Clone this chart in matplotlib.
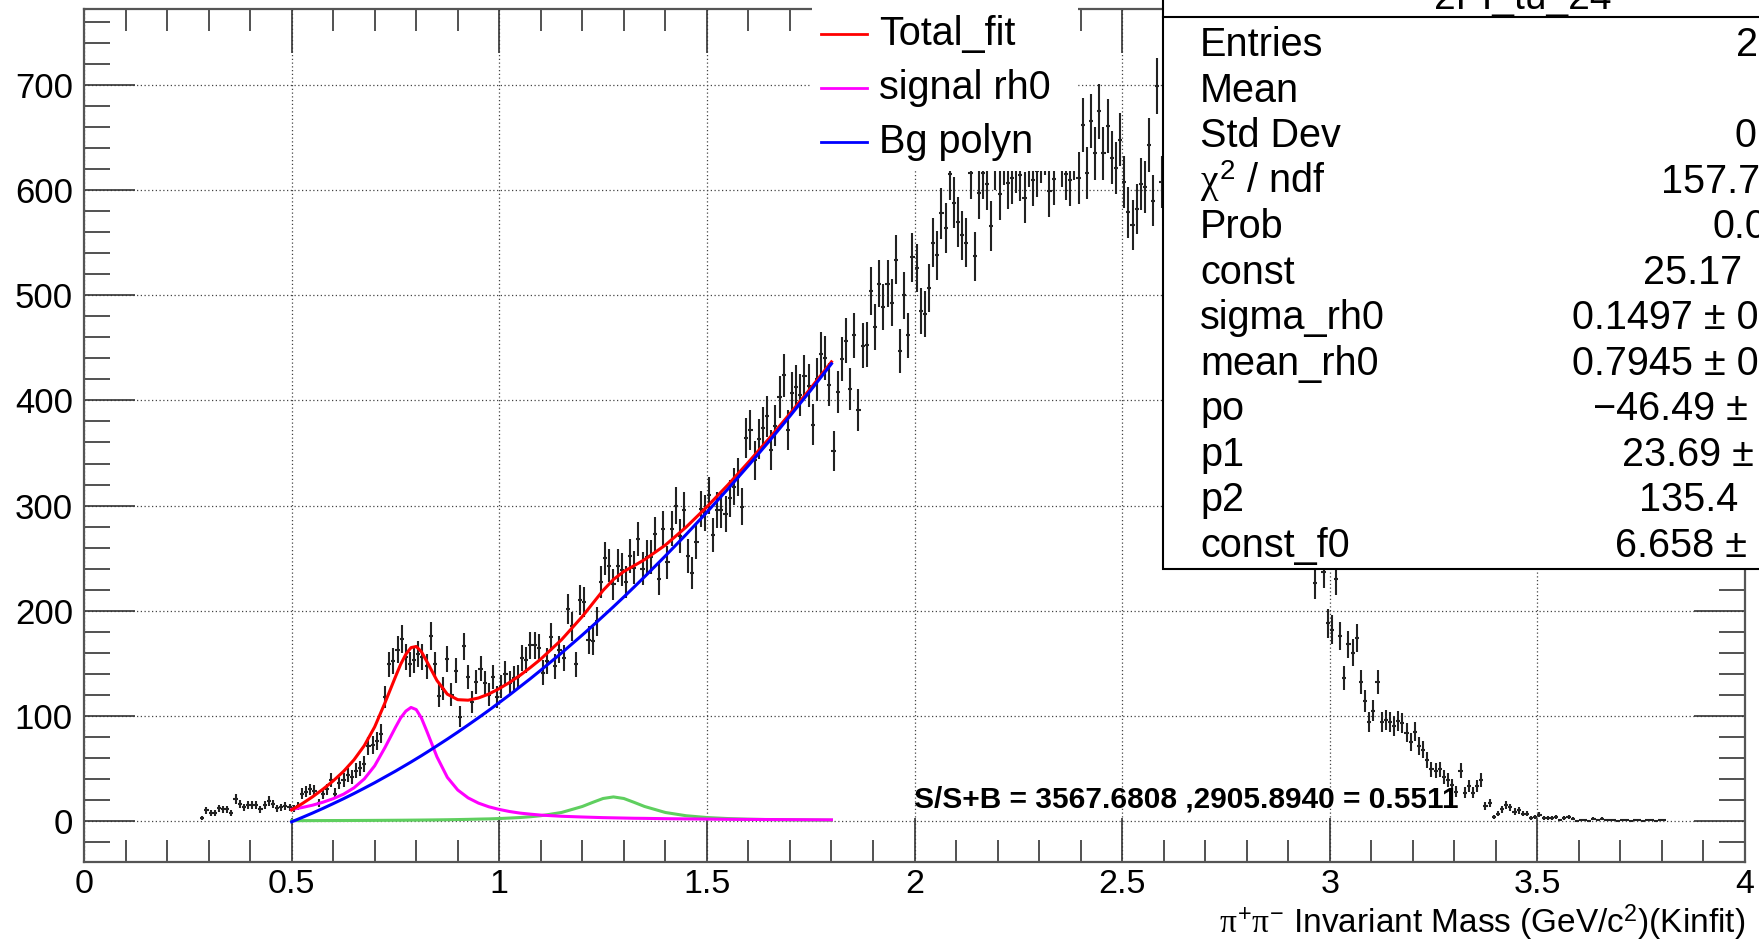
import numpy as np
import matplotlib
matplotlib.use("Agg")
import matplotlib.pyplot as plt
from matplotlib.patches import Rectangle
from matplotlib.lines import Line2D
from matplotlib.ticker import MultipleLocator

plt.rcParams['font.family'] = ['Liberation Sans', 'DejaVu Sans']
plt.rcParams['mathtext.fontset'] = 'custom'
plt.rcParams['mathtext.rm'] = 'Liberation Sans'
plt.rcParams['mathtext.it'] = 'Liberation Serif'

W, H = 1759, 941

# histogram, 0.01 GeV bins starting at 0.28
bin_lo = 0.28
bin_w = 0.01
counts = [
    3, 10, 8, 8, 12, 11, 11, 8, 21, 16,
    13, 15, 15, 15, 11, 15, 19, 16, 12, 13,
    14, 13, 12, 14, 26, 28, 30, 29, 17, 26,
    30, 39, 26, 36, 39, 44, 42, 48, 50, 54,
    71, 72, 76, 83, 118, 149, 152, 163, 173, 156,
    149, 153, 159, 156, 147, 176, 149, 119, 126, 154,
    120, 143, 99, 166, 137, 113, 132, 145, 131, 120,
    137, 118, 128, 140, 131, 136, 137, 155, 153, 167,
    167, 165, 141, 152, 175, 147, 163, 155, 202, 185,
    149, 210, 208, 172, 171, 190, 227, 250, 243, 225,
    243, 239, 227, 252, 241, 268, 240, 251, 251, 273,
    230, 278, 246, 278, 300, 271, 296, 252, 236, 265,
    297, 293, 310, 272, 296, 296, 292, 307, 318, 327,
    299, 364, 372, 343, 363, 374, 385, 353, 376, 403,
    424, 372, 407, 413, 405, 423, 414, 377, 420, 444,
    440, 415, 352, 408, 439, 457, 411, 462, 391, 452,
    453, 504, 470, 511, 489, 511, 493, 534, 447, 500,
    462, 536, 526, 485, 482, 507, 550, 538, 578, 564,
    615, 588, 570, 557, 550, 616, 537, 597, 616, 606,
    566, 625, 596, 630, 607, 612, 622, 614, 593, 628,
    610, 618, 632, 640, 599, 611, 645, 628, 615, 610,
    635, 612, 662, 616, 666, 635, 675, 635, 661, 631,
    621, 648, 608, 579, 567, 582, 606, 603, 643, 590,
    699, 608, 640, 620, 650, 605, 630, 590, 600, 570,
    585, 555, 560, 530, 545, 510, 500, 490, 470, 480,
    450, 440, 420, 425, 400, 390, 370, 360, 345, 330,
    325, 315, 310, 300, 295, 290, 285, 280, 226, 265,
    237, 188, 182, 230, 176, 136, 168, 160, 174, 132,
    114, 94, 105, 132, 94, 96, 94, 90, 95, 93,
    84, 75, 85, 71, 68, 58, 49, 48, 49, 42,
    39, 34, 28, 48, 27, 33, 27, 33, 39, 14,
    17, 4, 7, 11, 15, 13, 9, 10, 7, 7,
    3, 4, 6, 3, 3, 3, 4, 1, 3, 4,
    2, 0, 1, 1, 0, 2, 1, 2, 1, 1,
    1, 0, 1, 1, 0, 1, 1, 0, 1, 1,
    0, 1, 1,
]

# fit curves
fit_x = [0.500, 0.525, 0.550, 0.575, 0.600, 0.625, 0.650, 0.675, 0.700, 0.725,
         0.750, 0.7625, 0.775, 0.7875, 0.800, 0.8125, 0.825, 0.850, 0.875, 0.900,
         0.925, 0.950, 0.975, 1.000, 1.025, 1.050, 1.075, 1.100, 1.150, 1.200,
         1.225, 1.250, 1.275, 1.300, 1.325, 1.350, 1.400, 1.450, 1.500, 1.550,
         1.600, 1.650, 1.700, 1.750, 1.800]
total_fit = [10.5, 16.4, 22.9, 30.1, 38.1, 47.2, 58.1, 71.7, 89.5, 112.6,
             137.1, 149.0, 158.5, 164.9, 166.0, 161.0, 152.2, 133.6, 120.6, 115.4,
             114.9, 117.0, 120.8, 125.9, 131.8, 138.5, 146.0, 154.0, 172.4, 194.5,
             206.9, 219.3, 229.7, 237.3, 242.9, 248.6, 262.4, 279.5, 298.8, 319.4,
             341.2, 363.9, 387.4, 411.6, 436.7]
signal_rho = [11.0, 12.8, 15.0, 17.8, 21.2, 25.5, 31.5, 40.0, 52.5, 70.0,
              89.0, 98.0, 104.5, 108.0, 106.0, 98.0, 86.0, 61.0, 41.5, 29.5,
              22.0, 17.0, 13.5, 11.0, 9.0, 7.5, 6.5, 5.6, 4.5, 3.8,
              3.5, 3.2, 3.0, 2.8, 2.6, 2.5, 2.2, 2.0, 1.8, 1.6,
              1.5, 1.4, 1.3, 1.2, 1.1]
bg_poly = [-0.8, 3.3, 7.5, 11.9, 16.5, 21.2, 26.1, 31.2, 36.4, 41.9,
           47.4, 50.3, 53.2, 56.1, 59.1, 62.1, 65.2, 71.5, 77.9, 84.5,
           91.3, 98.2, 105.3, 112.6, 120.0, 127.7, 135.4, 143.4, 159.8, 176.9,
           185.7, 194.7, 203.8, 213.1, 222.6, 232.3, 252.1, 272.5, 293.7, 315.5,
           338.0, 361.2, 385.1, 409.6, 434.9]
signal_f0 = [0.30, 0.35, 0.37, 0.40, 0.43, 0.46, 0.50, 0.54, 0.59, 0.65,
             0.71, 0.74, 0.78, 0.82, 0.86, 0.91, 0.96, 1.07, 1.20, 1.36,
             1.56, 1.80, 2.00, 2.33, 2.80, 3.30, 4.05, 5.00, 8.10, 13.8,
             17.7, 21.4, 22.9, 21.4, 17.7, 13.8, 8.10, 5.00, 3.30, 2.33,
             1.72, 1.31, 1.03, 0.84, 0.69]

xticks = [0, 0.5, 1, 1.5, 2, 2.5, 3, 3.5, 4]
xtick_labels = ['0', '0.5', '1', '1.5', '2', '2.5', '3', '3.5', '4']
yticks = [0, 100, 200, 300, 400, 500, 600, 700]
ytick_labels = ['0', '100', '200', '300', '400', '500', '600', '700']

stat_names = ['Entries', 'Mean', 'Std Dev', r'$\chi^{2}$ / ndf', 'Prob', 'const',
              'sigma_rh0', 'mean_rh0', 'po', 'p1', 'p2', 'const_f0']
stat_values = ['26831', '1.858', '0.6863', '157.7 / 125', '0.0362', '25.17  ± 1.43',
               '0.1497 ± 0.0182', '0.7945 ± 0.0061', '\u221246.49 ± 14.63',
               '23.69 ± 30.81', '135.4  ± 18.2', '6.658 ± 3.012']
legend_labels = ['Total_fit', 'signal rh0', 'Bg polyn']
legend_colors = ['#ff0000', '#ff00ff', '#0000ff']


def fx(px):
    return px / W


def fy(py):
    return 1 - py / H


fig = plt.figure(figsize=(W / 100, H / 100), dpi=100)
ax = fig.add_axes([fx(84), fy(862), (1745 - 84) / W, (862 - 9) / H])

centers = bin_lo + bin_w * (np.arange(len(counts)) + 0.5)
vals = np.array(counts, dtype=float)
ax.errorbar(centers, vals, xerr=bin_w / 2, yerr=np.sqrt(vals), fmt='none',
            ecolor='#222222', elinewidth=1.5, capsize=0, zorder=2)

ax.plot(fit_x, signal_f0, color='#5fcf5f', lw=2.2, zorder=3)
ax.plot(fit_x, signal_rho, color='#ff00ff', lw=2.2, zorder=3)
ax.plot(fit_x, total_fit, color='#ff0000', lw=2.2, zorder=3)
ax.plot(fit_x, bg_poly, color='#0000ff', lw=2.2, zorder=3)

ax.text(2.0, 12.4, 'S/S+B = 3567.6808 ,2905.8940 = 0.5511', fontsize=21.5,
        fontweight='bold', ha='left', va='baseline', zorder=5)

ax.set_xlim(0, 4)
ax.set_ylim(-39, 772.3)
ax.set_xticks(xticks)
ax.set_xticklabels(xtick_labels, fontsize=24.5)
ax.set_yticks(yticks)
ax.set_yticklabels(ytick_labels, fontsize=25)
ax.xaxis.set_minor_locator(MultipleLocator(0.1))
ax.yaxis.set_minor_locator(MultipleLocator(20))
ax.tick_params(which='both', direction='in', top=True, right=True,
               color='#333333', width=1.2)
ax.tick_params(axis='x', which='major', length=32, pad=5)
ax.tick_params(axis='x', which='minor', length=16)
ax.tick_params(axis='y', which='major', length=37, pad=8)
ax.tick_params(axis='y', which='minor', length=19)
ax.grid(which='major', linestyle=(0, (1, 2)), color='#444444', lw=0.9)
ax.set_axisbelow(True)
for s in ax.spines.values():
    s.set_color('#555555')
    s.set_linewidth(1.6)

fig.text(fx(1745), fy(933), r'$\pi^{+}\pi^{-}$ Invariant Mass (GeV/c$^{2}$)(Kinfit)',
         ha='right', va='baseline', fontsize=24)

# legend (white, no border)
fig.add_artist(Rectangle((fx(812), fy(171)), (1078 - 812) / W, 171 / H + 0.01,
                         transform=fig.transFigure, facecolor='white',
                         edgecolor='none', zorder=3))
leg_rows = [34.3, 87.7, 141.7]
for lab, col, yy in zip(legend_labels, legend_colors, leg_rows):
    fig.add_artist(Line2D([fx(821), fx(867)], [fy(yy), fy(yy)], color=col, lw=2,
                          transform=fig.transFigure, zorder=4))
    fig.text(fx(879), fy(yy), lab, fontsize=28.5, va='center', ha='left', zorder=4)

# stats box
fig.add_artist(Rectangle((fx(1163), fy(569)), (W - 1163 + 20) / W, 600 / H,
                         transform=fig.transFigure, facecolor='white',
                         edgecolor='black', lw=1.5, zorder=5))
fig.add_artist(Line2D([fx(1163), 1.0], [fy(16.6), fy(16.6)], color='black', lw=1.5,
                      transform=fig.transFigure, zorder=6))
fig.text(fx(1523), fy(9), '2PI_tu_24', fontsize=28, ha='center', va='baseline',
         zorder=6)
value_left = [1736, 1775, 1734, 1661, 1713, 1643, 1572, 1572, 1593, 1622, 1639, 1615]
for i, (name, val) in enumerate(zip(stat_names, stat_values)):
    yb = 56.2 + 45.5 * i
    fig.text(fx(1200), fy(yb), name, fontsize=28.5, ha='left', va='baseline', zorder=6)
    fig.text(fx(value_left[i]), fy(yb), val, fontsize=28.5, ha='left', va='baseline',
             zorder=6)

fig.savefig('out.png', dpi=100)
